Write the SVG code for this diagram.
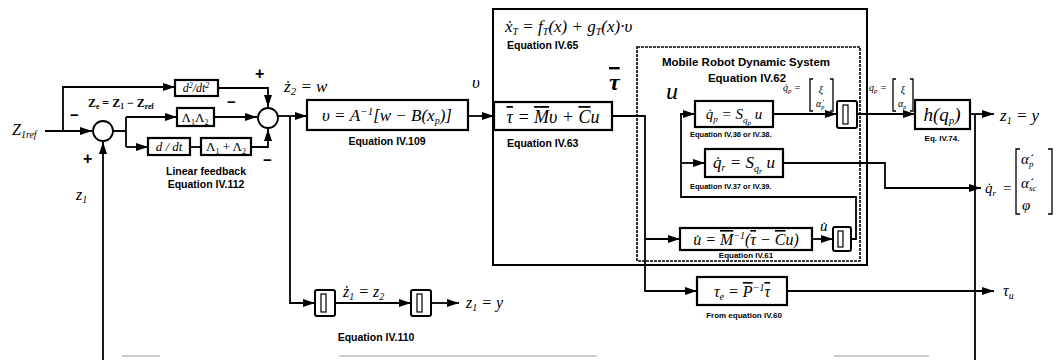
<svg xmlns="http://www.w3.org/2000/svg" width="1057" height="360" viewBox="0 0 1057 360">
<style>
.m{font-family:"Liberation Serif",serif;font-style:italic;fill:#000}
.r{font-family:"Liberation Serif",serif;fill:#000}
.eq{font-family:"Liberation Sans",Arial,sans-serif;font-weight:bold;fill:#000}
.ln{fill:none;stroke:#000;stroke-width:1.8}
.bx{fill:#fff;stroke:#000;stroke-width:2.2}
.frame{fill:none;stroke:#000;stroke-width:2}
.dot{fill:none;stroke:#000;stroke-width:1.6;stroke-dasharray:3 1}
.sg{fill:#fff;stroke:#000;stroke-width:1.8}
.brk{fill:none;stroke:#000;stroke-width:1.3}
.integ{fill:#fff;stroke:#000;stroke-width:2}
.ib{fill:none;stroke:#000;stroke-width:1.2}
.faint{stroke:#bbb;stroke-width:1.5}
.ov{text-decoration:overline}
</style>
<defs>
<marker id="a" viewBox="0 0 12 8" refX="12" refY="4" markerWidth="12" markerHeight="8" markerUnits="userSpaceOnUse" orient="auto"><path d="M0,0L12,4L0,8z" fill="#000"/></marker>
</defs>
<rect width="1057" height="360" fill="#fff"/>

<g id="system-xT">
<rect class="frame" x="493" y="9" width="374" height="256"/>
<text class="m" x="505" y="32" font-size="17">ẋ<tspan font-size="10" dy="3">T</tspan><tspan dy="-3"> = f</tspan><tspan font-size="10" dy="3">T</tspan><tspan dy="-3">(x) + g</tspan><tspan font-size="10" dy="3">T</tspan><tspan dy="-3">(x)·υ</tspan></text>
<text class="eq" x="507" y="49" font-size="10.5">Equation IV.65</text>
</g>
<g id="mobile-robot">
<rect class="dot" x="637" y="47" width="223" height="214"/>
<text class="eq" x="746" y="66" font-size="11.5" text-anchor="middle">Mobile Robot Dynamic System</text>
<text class="eq" x="747" y="82" font-size="11.5" text-anchor="middle">Equation IV.62</text>
</g>

<g id="connectors">
<path class="ln" d="M45,131H92" marker-end="url(#a)"/>
<path class="ln" d="M63,131V87H175" marker-end="url(#a)"/>
<path class="ln" d="M103,360V142" marker-end="url(#a)"/>
<path class="ln" d="M113,131H126M126,117V147"/>
<path class="ln" d="M126,117H177" marker-end="url(#a)"/>
<path class="ln" d="M126,147H148" marker-end="url(#a)"/>
<path class="ln" d="M190,147H201"/>
<path class="ln" d="M218,88H268V107" marker-end="url(#a)"/>
<path class="ln" d="M214,117H257" marker-end="url(#a)"/>
<path class="ln" d="M251,147H268V129" marker-end="url(#a)"/>
<path class="ln" d="M278,116H307" marker-end="url(#a)"/>
<path class="ln" d="M290,116V303H315" marker-end="url(#a)"/>
<path class="ln" d="M335,303H411" marker-end="url(#a)"/>
<path class="ln" d="M431,303H459" marker-end="url(#a)"/>
<path class="ln" d="M468,116H494" marker-end="url(#a)"/>
<path class="ln" d="M612,116H645V291H697" marker-end="url(#a)"/>
<path class="ln" d="M645,239H680" marker-end="url(#a)"/>
<path class="ln" d="M851,239H856V197H681V114H695" marker-end="url(#a)"/>
<path class="ln" d="M681,163H705" marker-end="url(#a)"/>
<path class="ln" d="M773,114H837" marker-end="url(#a)"/>
<path class="ln" d="M812,239H833" marker-end="url(#a)"/>
<path class="ln" d="M857,114H915" marker-end="url(#a)"/>
<path class="ln" d="M970,114H994" marker-end="url(#a)"/>
<path class="ln" d="M975,114V360"/>
<path class="ln" d="M783,163H885V188H981" marker-end="url(#a)"/>
<path class="ln" d="M787,291H994" marker-end="url(#a)"/>
<path class="faint" d="M122,356H160M339,356H597M834,356H929"/>
</g>

<g id="input">
<text class="m" x="12" y="135" font-size="16">Z<tspan font-size="10" dy="3">1ref</tspan></text>
<text class="m" x="76" y="200" font-size="16">z<tspan font-size="10" dy="3">1</tspan></text>
</g>
<g id="sum1">
<circle class="sg" cx="103" cy="131" r="10"/>
<text class="eq" x="70" y="120" font-size="15">−</text>
<text class="eq" x="83" y="164" font-size="16">+</text>
<text class="r" x="88" y="107" font-size="12" font-weight="bold">Z<tspan font-size="7.5" dy="2">e</tspan><tspan dy="-2"> = Z</tspan><tspan font-size="7.5" dy="2">1</tspan><tspan dy="-2"> − Z</tspan><tspan font-size="7.5" dy="2">ref</tspan></text>
</g>
<g id="d2dt2">
<rect class="bx" x="175" y="80" width="43" height="16"/>
<text class="m" x="196" y="92" font-size="12" text-anchor="middle">d<tspan font-size="8" dy="-4">2</tspan><tspan dy="4">/dt</tspan><tspan font-size="8" dy="-4">2</tspan></text>
</g>
<g id="L1L2">
<rect class="bx" x="177" y="108" width="37" height="18"/>
<text class="r" x="195" y="122" font-size="13" text-anchor="middle">Λ<tspan font-size="8" dy="3">1</tspan><tspan dy="-3">Λ</tspan><tspan font-size="8" dy="3">2</tspan></text>
</g>
<g id="ddt">
<rect class="bx" x="148" y="138" width="42" height="17"/>
<text class="m" x="169" y="151" font-size="13" text-anchor="middle">d / dt</text>
</g>
<g id="L1pL2">
<rect class="bx" x="201" y="138" width="50" height="17"/>
<text class="r" x="226" y="151" font-size="13" text-anchor="middle">Λ<tspan font-size="8" dy="3">1</tspan><tspan dy="-3"> + Λ</tspan><tspan font-size="8" dy="3">2</tspan></text>
</g>
<g id="sum2">
<circle class="sg" cx="268" cy="118" r="10"/>
<text class="eq" x="255" y="79" font-size="16">+</text>
<text class="eq" x="227" y="107" font-size="15">−</text>
<text class="eq" x="263" y="165" font-size="15">−</text>
</g>
<g id="linfb-label">
<text class="eq" x="206" y="175" font-size="10.5" text-anchor="middle">Linear feedback</text>
<text class="eq" x="206" y="188" font-size="10.5" text-anchor="middle">Equation IV.112</text>
<text class="m" x="284" y="92" font-size="17">ż<tspan font-size="11" dy="3">2</tspan><tspan dy="-3"> = w</tspan></text>
</g>
<g id="boxA">
<rect class="bx" x="307" y="100" width="161" height="30"/>
<text class="m" x="387" y="121" font-size="17" text-anchor="middle">υ = A<tspan font-size="11" dy="-6">−1</tspan><tspan dy="6">[w − B(x</tspan><tspan font-size="10" dy="3">p</tspan><tspan dy="-3">)]</tspan></text>
<text class="eq" x="387" y="145" font-size="10.5" text-anchor="middle">Equation IV.109</text>
<text class="m" x="472" y="88" font-size="17">υ</text>
</g>
<g id="integ1">
<rect class="integ" x="315" y="290" width="20" height="26" rx="2"/>
<rect class="ib" x="321" y="294" width="5" height="18"/>
</g>
<g id="integ2">
<rect class="integ" x="411" y="290" width="20" height="26" rx="2"/>
<rect class="ib" x="417" y="294" width="5" height="18"/>
</g>
<g id="integ-labels">
<text class="m" x="343" y="297" font-size="16">ż<tspan font-size="10" dy="3">1</tspan><tspan dy="-3"> = z</tspan><tspan font-size="10" dy="3">2</tspan></text>
<text class="m" x="466" y="308" font-size="16">z<tspan font-size="10" dy="3">1</tspan><tspan dy="-3"> = y</tspan></text>
<text class="eq" x="376" y="341" font-size="10.5" text-anchor="middle">Equation IV.110</text>
</g>
<g id="tau-box">
<rect class="bx" x="494" y="102" width="118" height="28"/>
<text class="m" x="553" y="123" font-size="18" text-anchor="middle"><tspan class="ov">τ</tspan> = <tspan class="ov">M</tspan>υ + <tspan class="ov">C</tspan>u</text>
<text class="eq" x="507" y="147" font-size="10.5">Equation IV.63</text>
<text class="m" x="609" y="90" font-size="24" font-weight="bold"><tspan class="ov">τ</tspan></text>
<text class="m" x="666" y="99" font-size="24">u</text>
</g>
<g id="qp-box">
<rect class="bx" x="695" y="101" width="78" height="26"/>
<text class="m" x="734" y="119" font-size="15" text-anchor="middle">q̇<tspan font-size="9" dy="3">p</tspan><tspan dy="-3"> = S</tspan><tspan font-size="9" dy="4">q</tspan><tspan font-size="7" dy="2">p</tspan><tspan dy="-6"> u</tspan></text>
<text class="eq" x="690" y="137" font-size="7.5">Equation IV.36 or IV.38.</text>
</g>
<g id="qr-box">
<rect class="bx" x="705" y="149" width="78" height="28"/>
<text class="m" x="744" y="168" font-size="17" text-anchor="middle">q̇<tspan font-size="10" dy="3">r</tspan><tspan dy="-3"> = S</tspan><tspan font-size="10" dy="4">q</tspan><tspan font-size="8" dy="2">r</tspan><tspan dy="-6"> u</tspan></text>
<text class="eq" x="690" y="189" font-size="7.5">Equation IV.37 or IV.39.</text>
</g>
<g id="udot-box">
<rect class="bx" x="680" y="228" width="132" height="22"/>
<text class="m" x="746" y="245" font-size="16" text-anchor="middle">u̇ = <tspan class="ov">M</tspan><tspan font-size="10" dy="-6">−1</tspan><tspan dy="6">(</tspan><tspan class="ov">τ</tspan> − <tspan class="ov">C</tspan>u)</text>
<text class="eq" x="746" y="258" font-size="8" text-anchor="middle">Equation IV.61</text>
<text class="m" x="820" y="231" font-size="15">u̇</text>
</g>
<g id="integ-u">
<rect class="integ" x="833" y="227" width="18" height="24" rx="2"/>
<rect class="ib" x="838" y="231" width="5" height="16"/>
</g>
<g id="integ-qp">
<rect class="integ" x="837" y="101" width="20" height="27" rx="2"/>
<rect class="ib" x="843" y="105" width="5" height="19"/>
</g>
<g id="qpdot-label">
<text class="m" x="783" y="91" font-size="10">q̇<tspan font-size="7" dy="2">p</tspan><tspan dy="-2"> =</tspan></text>
<path class="brk" d="M813,79H810V111H813M830,79H833V111H830"/>
<text class="m" x="821" y="93" font-size="10" text-anchor="middle">ξ</text>
<text class="m" x="820" y="107" font-size="10" text-anchor="middle">α̇<tspan font-size="6" dy="2">p</tspan></text>
</g>
<g id="qp-label">
<text class="m" x="869" y="91" font-size="10">q<tspan font-size="7" dy="2">p</tspan><tspan dy="-2"> =</tspan></text>
<path class="brk" d="M896,79H893V111H896M910,79H913V111H910"/>
<text class="m" x="903" y="93" font-size="10" text-anchor="middle">ξ</text>
<text class="m" x="902" y="107" font-size="10" text-anchor="middle">α<tspan font-size="6" dy="2">p</tspan></text>
</g>
<g id="h-box">
<rect class="bx" x="915" y="100" width="55" height="29"/>
<text class="m" x="942" y="121" font-size="19" text-anchor="middle">h(q<tspan font-size="11" dy="3">p</tspan><tspan dy="-3">)</tspan></text>
<text class="eq" x="942" y="141" font-size="8" text-anchor="middle">Eq. IV.74.</text>
</g>
<g id="out-z1">
<text class="m" x="1000" y="121" font-size="17">z<tspan font-size="10" dy="3">1</tspan><tspan dy="-3"> = y</tspan></text>
</g>
<g id="out-qr">
<text class="m" x="985" y="193" font-size="15">q̇<tspan font-size="9" dy="3">r</tspan></text>
<text class="r" x="1003" y="193" font-size="15">=</text>
<path class="brk" d="M1020,149H1016V214H1020M1048,149H1052V214H1048" stroke-width="1.8"/>
<text class="m" x="1021" y="164" font-size="15">α̇<tspan font-size="9" dy="3">p</tspan></text>
<text class="m" x="1021" y="188" font-size="15">α̇<tspan font-size="9" dy="3">sc</tspan></text>
<text class="m" x="1022" y="210" font-size="15">φ</text>
</g>
<g id="tau-e-box">
<rect class="bx" x="697" y="277" width="90" height="28"/>
<text class="m" x="742" y="297" font-size="16" text-anchor="middle">τ<tspan font-size="10" dy="3">e</tspan><tspan dy="-3"> = </tspan><tspan class="ov">P</tspan><tspan font-size="10" dy="-6">−1</tspan><tspan class="ov" dy="6">τ</tspan></text>
<text class="eq" x="744" y="318" font-size="8" text-anchor="middle">From equation IV.60</text>
</g>
<g id="out-tau-u">
<text class="m" x="1003" y="296" font-size="16">τ<tspan font-size="10" dy="3">u</tspan></text>
</g>
</svg>
